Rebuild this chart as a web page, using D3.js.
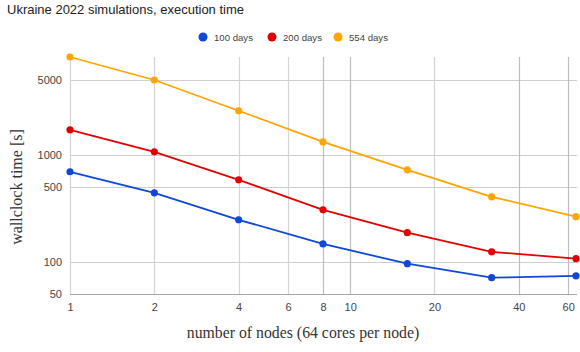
<!DOCTYPE html>
<html>
<head>
<meta charset="utf-8">
<script src="https://cdn.jsdelivr.net/npm/d3@7"></script>
<style>
  body { margin: 0; background: #fff; }
  svg { display: block; }
  .tick text { font-family: Arial, "Liberation Sans", sans-serif; font-size: 11px; fill: #444; }
</style>
</head>
<body>
<svg id="chart" width="580" height="352"></svg>
<script>
// chart data
var nodes = [1, 2, 4, 8, 16, 32, 64];
var seriesNames = ['100 days', '200 days', '554 days'];
var seriesColors = ['#0f47d9', '#e40000', '#ffa500'];
var days100 = [694, 441, 247, 147, 96, 71, 74];
var days200 = [1710, 1066, 584, 306, 187, 124, 107];
var days554 = [8200, 5000, 2580, 1320, 724, 405, 264];
var xTicks = [1, 2, 4, 6, 8, 10, 20, 40, 60];
var yTicks = [50, 100, 500, 1000, 5000];

var seriesData = [days100, days200, days554];

var svg = d3.select('#chart');

var plot = { left: 70, right: 577, top: 57, bottom: 294 };

var x = d3.scaleLog()
    .domain([1, 64])
    .range([plot.left, plot.right - 1]);

var y = d3.scaleLog()
    .domain([50, 8200])
    .range([plot.bottom, plot.top]);

/*
 Grid
 */

svg.append('g')
    .selectAll('line')
    .data(yTicks)
    .enter().append('line')
    .attr('x1', plot.left)
    .attr('x2', plot.right)
    .attr('y1', function (d) { return Math.round(y(d)) + 0.5; })
    .attr('y2', function (d) { return Math.round(y(d)) + 0.5; })
    .attr('stroke', '#cfcfcf')
    .attr('stroke-width', 1.2);

svg.append('g')
    .selectAll('line')
    .data(xTicks)
    .enter().append('line')
    .attr('x1', function (d) { return Math.round(x(d)) + 0.5; })
    .attr('x2', function (d) { return Math.round(x(d)) + 0.5; })
    .attr('y1', plot.top)
    .attr('y2', plot.bottom)
    .attr('stroke', function (d) {
        return (d === 8 || d === 10 || d === 40 || d === 60) ? '#bdbdbd' : '#d4d4d4';
    })
    .attr('stroke-width', 1.2);

// baseline
svg.append('line')
    .attr('x1', plot.left)
    .attr('x2', plot.right)
    .attr('y1', plot.bottom + 0.5)
    .attr('y2', plot.bottom + 0.5)
    .attr('stroke', '#a8a8a8')
    .attr('stroke-width', 1.2);

/*
 Axes
 */

var yAxis = d3.axisLeft(y)
    .tickValues(yTicks)
    .tickFormat(d3.format('d'))
    .tickSize(0)
    .tickPadding(8);

svg.append('g')
    .attr('transform', 'translate(' + plot.left + ',0)')
    .call(yAxis)
    .call(function (g) { g.select('.domain').remove(); });

var xAxis = d3.axisBottom(x)
    .tickValues(xTicks)
    .tickFormat(d3.format('d'))
    .tickSize(0)
    .tickPadding(9);

svg.append('g')
    .attr('transform', 'translate(0,' + plot.bottom + ')')
    .call(xAxis)
    .call(function (g) { g.select('.domain').remove(); });

/*
 Series
 */

var line = d3.line()
    .x(function (d, i) { return x(nodes[i]); })
    .y(function (d) { return y(d); });

var series = svg.selectAll('.series')
    .data(seriesData)
    .enter().append('g')
    .classed('series', true);

series.append('path')
    .attr('d', function (d) { return line(d); })
    .attr('fill', 'none')
    .attr('stroke', function (d, i) { return seriesColors[i]; })
    .attr('stroke-width', 1.8);

series.each(function (vals, si) {
    d3.select(this).selectAll('circle')
        .data(vals)
        .enter().append('circle')
        .attr('cx', function (d, i) { return x(nodes[i]); })
        .attr('cy', function (d) { return y(d); })
        .attr('r', 3.6)
        .attr('fill', seriesColors[si]);
});

/*
 Title, legend, axis titles
 */

svg.append('text')
    .attr('x', 7)
    .attr('y', 14)
    .attr('font-family', 'Arial, "Liberation Sans", sans-serif')
    .attr('font-size', 13)
    .attr('fill', '#222')
    .text('Ukraine 2022 simulations, execution time');

var legendX = [203, 272, 338];

var legend = svg.selectAll('.legend')
    .data(seriesNames)
    .enter().append('g')
    .classed('legend', true)
    .attr('transform', function (d, i) { return 'translate(' + legendX[i] + ',37)'; });

legend.append('circle')
    .attr('r', 4.5)
    .attr('fill', function (d, i) { return seriesColors[i]; });

legend.append('text')
    .attr('x', 11)
    .attr('y', 3.5)
    .attr('font-family', 'Arial, "Liberation Sans", sans-serif')
    .attr('font-size', 9.6)
    .attr('fill', '#444')
    .text(function (d) { return d; });

svg.append('text')
    .attr('transform', 'translate(22,187) rotate(-90)')
    .attr('text-anchor', 'middle')
    .attr('font-family', '"Liberation Serif", "DejaVu Serif", serif')
    .attr('font-size', 16)
    .attr('fill', '#333')
    .text('wallclock time [s]');

svg.append('text')
    .attr('x', 303)
    .attr('y', 338)
    .attr('text-anchor', 'middle')
    .attr('font-family', '"Liberation Serif", "DejaVu Serif", serif')
    .attr('font-size', 15.8)
    .attr('fill', '#333')
    .text('number of nodes (64 cores per node)');
</script>
</body>
</html>
